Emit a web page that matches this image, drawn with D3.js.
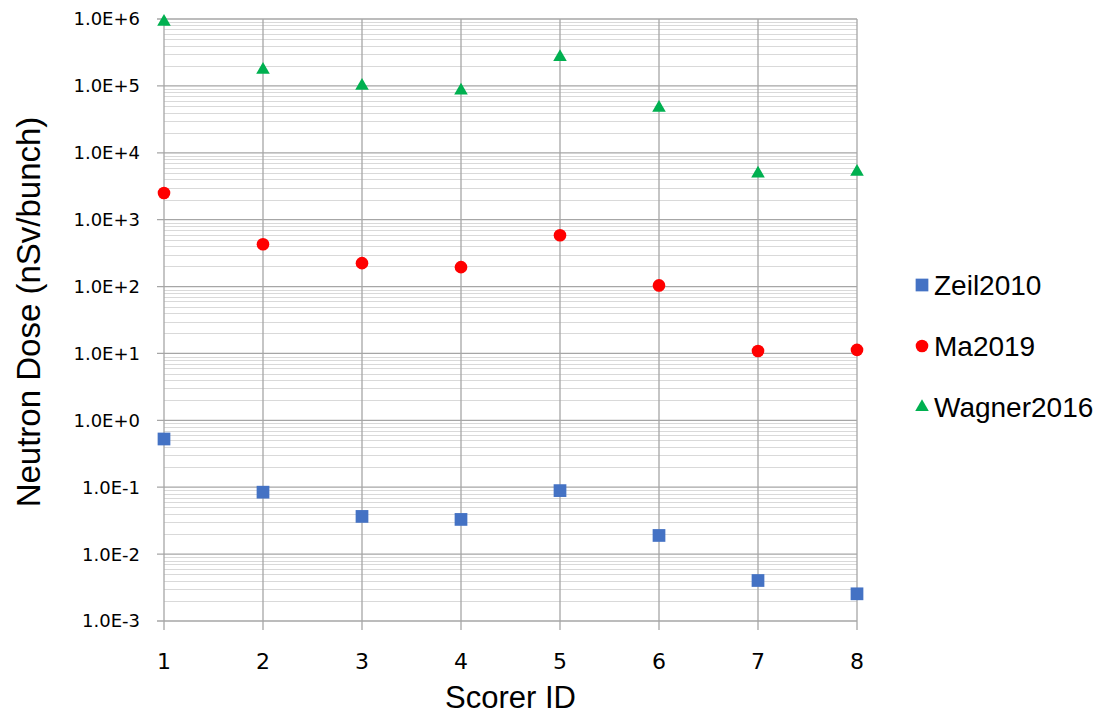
<!DOCTYPE html>
<html>
<head>
<meta charset="utf-8">
<script src="https://cdn.jsdelivr.net/npm/d3@7"></script>
<style>
  body { margin: 0; background: #fff; }
  text { fill: #000; }
</style>
</head>
<body>
<div id="graph"></div>
<script>
var width = 1109, height = 716

var scorers = [1, 2, 3, 4, 5, 6, 7, 8]
var zeil2010 = [0.526, 0.0843, 0.0366, 0.033, 0.089, 0.019, 0.00403, 0.00255]
var ma2019 = [2500, 429, 224, 195, 584, 104, 10.9, 11.3]
var wagner2016 = [9.1e5, 1.74e5, 1.0e5, 8.5e4, 2.7e5, 4.7e4, 4.9e3, 5.2e3]
var yTicks = [1e-3, 1e-2, 1e-1, 1e0, 1e1, 1e2, 1e3, 1e4, 1e5, 1e6]
var seriesNames = ['Zeil2010', 'Ma2019', 'Wagner2016']

var series = [
  {name: seriesNames[0], values: zeil2010, color: '#4472C4', shape: d3.symbolSquare, size: 162},
  {name: seriesNames[1], values: ma2019, color: '#FF0000', shape: d3.symbolCircle, size: 125},
  {name: seriesNames[2], values: wagner2016, color: '#00B050', shape: d3.symbolTriangle, size: 80}
]

var m = {left: 164, right: 857, top: 19, bottom: 621}

var x = d3.scaleLinear().domain([1, 8]).range([m.left, m.right])
var y = d3.scaleLog().domain([1e-3, 1e6]).range([m.bottom, m.top])

var svg = d3.select('#graph').append('svg')
    .attr('width', width).attr('height', height)

// minor grid
var minor = []
for (var k = -3; k < 6; k++) for (var j = 2; j < 10; j++) minor.push(j * Math.pow(10, k))

svg.append('g').selectAll('line').data(minor).enter().append('line')
    .attr('x1', m.left).attr('x2', m.right)
    .attr('y1', d => Math.round(y(d)) + 0.5).attr('y2', d => Math.round(y(d)) + 0.5)
    .attr('stroke', '#d9d9d9').attr('stroke-width', 1)

// major grid + ticks
svg.append('g').selectAll('line').data(yTicks).enter().append('line')
    .attr('x1', m.left - 7).attr('x2', m.right)
    .attr('y1', d => y(d)).attr('y2', d => y(d))
    .attr('stroke', '#a6a6a6').attr('stroke-width', 1.3)

svg.append('g').selectAll('line').data(scorers).enter().append('line')
    .attr('x1', d => x(d)).attr('x2', d => x(d))
    .attr('y1', m.top).attr('y2', m.bottom + 9)
    .attr('stroke', '#a6a6a6').attr('stroke-width', 1.3)

// tick labels
svg.append('g').selectAll('text').data(yTicks).enter().append('text')
    .attr('x', 140).attr('y', d => y(d))
    .attr('dy', '0.36em')
    .attr('text-anchor', 'end')
    .style('font', '18px "DejaVu Sans", sans-serif')
    .text(d => d3.format('.1e')(d).replace('e', 'E'))

svg.append('g').selectAll('text').data(scorers).enter().append('text')
    .attr('x', d => x(d)).attr('y', 669)
    .attr('text-anchor', 'middle')
    .style('font', '22px "DejaVu Sans", sans-serif')
    .text(d => d)

// axis titles
svg.append('text')
    .attr('x', x(4.5)).attr('y', 708)
    .attr('text-anchor', 'middle')
    .style('font', '31px "Liberation Sans", Arial, sans-serif')
    .text('Scorer ID')

svg.append('text')
    .attr('transform', 'translate(40,312) rotate(-90)')
    .attr('text-anchor', 'middle')
    .style('font', '33px "Liberation Sans", Arial, sans-serif')
    .text('Neutron Dose (nSv/bunch)')

// points
series.forEach(function(s){
  svg.append('g').selectAll('path').data(s.values).enter().append('path')
      .attr('d', d3.symbol().type(s.shape).size(s.size))
      .attr('transform', (d, i) => 'translate(' + x(scorers[i]) + ',' + y(d) + ')')
      .attr('fill', s.color)
})

// legend
var leg = svg.append('g').selectAll('g').data(series).enter().append('g')
    .attr('transform', (d, i) => 'translate(922,' + (285 + i * 61) + ')')

leg.append('path')
    .attr('d', d => d3.symbol().type(d.shape).size(d.size)())
    .attr('fill', d => d.color)

leg.append('text')
    .attr('x', 12).attr('dy', '0.36em')
    .style('font', '28px "Liberation Sans", Arial, sans-serif')
    .text(d => d.name)
</script>
</body>
</html>
